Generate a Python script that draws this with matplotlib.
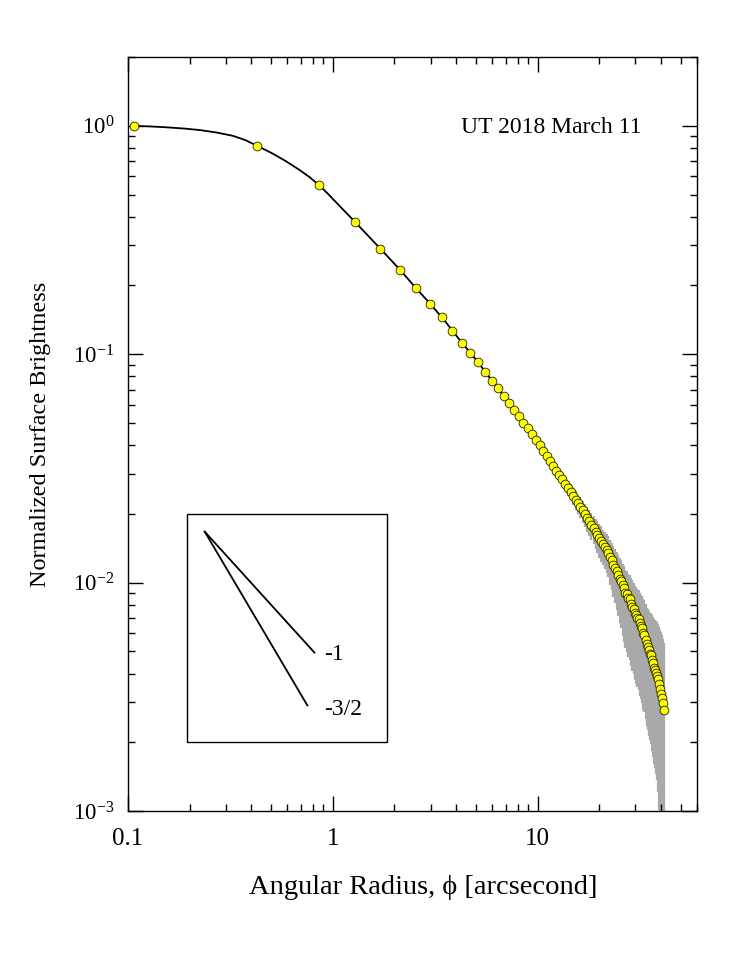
import matplotlib.pyplot as plt
import numpy as np
from matplotlib.patches import Rectangle
from matplotlib.ticker import LogLocator, NullFormatter, FixedLocator

plt.rcParams["font.family"] = ["Liberation Serif", "DejaVu Serif"]
plt.rcParams["mathtext.fontset"] = "custom"
plt.rcParams["mathtext.rm"] = "Liberation Serif"
plt.rcParams["mathtext.it"] = "Liberation Serif:italic"
plt.rcParams["mathtext.bf"] = "Liberation Serif:bold"

# --- datos ---
# radio angular (arcsec)
radius = [
    0.107, 0.426, 0.852, 1.278, 1.704, 2.130, 2.556, 2.982, 3.408, 3.834,
    4.260, 4.686, 5.112, 5.538, 5.964, 6.390, 6.816, 7.242, 7.668, 8.094,
    8.520, 8.946, 9.372, 9.798, 10.224, 10.650, 11.076, 11.502, 11.928, 12.354,
    12.780, 13.206, 13.632, 14.058, 14.484, 14.910, 15.336, 15.762, 16.188, 16.614,
    17.040, 17.466, 17.892, 18.318, 18.744, 19.170, 19.596, 20.022, 20.448, 20.874,
    21.300, 21.726, 22.152, 22.578, 23.004, 23.430, 23.856, 24.282, 24.708, 25.134,
    25.560, 25.986, 26.412, 26.838, 27.264, 27.690, 28.116, 28.542, 28.968, 29.394,
    29.820, 30.246, 30.672, 31.098, 31.524, 31.950, 32.376, 32.802, 33.228, 33.654,
    34.080, 34.506, 34.932, 35.358, 35.784, 36.210, 36.636, 37.062, 37.488, 37.914,
    38.340, 38.766, 39.192, 39.618, 40.044, 40.470, 40.896, 41.322,
]
# brillo superficial normalizado
brightness = [
    1.000, 0.818, 0.552, 0.381, 0.290, 0.234, 0.194, 0.1665, 0.145, 0.127,
    0.1124, 0.1017, 0.0923, 0.0840, 0.0767, 0.0708, 0.0656, 0.0611, 0.0571, 0.0535,
    0.0502, 0.0475, 0.0448, 0.0422, 0.0399, 0.0377, 0.0358, 0.0340, 0.0324, 0.0309,
    0.0296, 0.0283, 0.0271, 0.0260, 0.0250, 0.0240, 0.0231, 0.0223, 0.0215, 0.0207,
    0.0200, 0.0192, 0.0186, 0.0179, 0.0173, 0.0167, 0.0162, 0.0157, 0.0152, 0.0147,
    0.0143, 0.0139, 0.0135, 0.0129, 0.0125, 0.0120, 0.0116, 0.0112, 0.0108, 0.0104,
    0.0102, 0.00977, 0.00946, 0.00905, 0.00888, 0.00860, 0.00845, 0.00810, 0.00786, 0.00763,
    0.00735, 0.00721, 0.00701, 0.00690, 0.00664, 0.00646, 0.00630, 0.00604, 0.00590, 0.00562,
    0.00536, 0.00524, 0.00506, 0.00489, 0.00480, 0.00458, 0.00443, 0.00424, 0.00415, 0.00402,
    0.00390, 0.00378, 0.00360, 0.00342, 0.00326, 0.00311, 0.00296, 0.00278,
]
# error relativo superior / inferior (banda gris)
err_hi = [
    0.01, 0.01, 0.01, 0.01, 0.01, 0.01, 0.01, 0.01, 0.01, 0.01,
    0.01, 0.01, 0.01, 0.01, 0.01, 0.01, 0.01, 0.01, 0.01, 0.01,
    0.01, 0.01, 0.02, 0.02, 0.03, 0.03, 0.04, 0.04, 0.05, 0.05,
    0.06, 0.06, 0.07, 0.07, 0.08, 0.08, 0.09, 0.09, 0.10, 0.10,
    0.11, 0.12, 0.12, 0.13, 0.13, 0.14, 0.15, 0.15, 0.16, 0.16,
    0.17, 0.18, 0.18, 0.19, 0.19, 0.20, 0.21, 0.21, 0.22, 0.23,
    0.23, 0.24, 0.25, 0.25, 0.26, 0.27, 0.28, 0.29, 0.30, 0.31,
    0.32, 0.33, 0.34, 0.35, 0.36, 0.37, 0.39, 0.40, 0.42, 0.43,
    0.45, 0.47, 0.49, 0.51, 0.54, 0.57, 0.60, 0.63, 0.66, 0.69,
    0.72, 0.75, 0.78, 0.82, 0.86, 0.89, 0.92, 0.95,
]
err_lo = [
    0.01, 0.01, 0.01, 0.01, 0.01, 0.01, 0.01, 0.01, 0.01, 0.01,
    0.01, 0.01, 0.01, 0.01, 0.01, 0.01, 0.01, 0.01, 0.01, 0.01,
    0.01, 0.02, 0.02, 0.03, 0.03, 0.04, 0.04, 0.05, 0.05, 0.06,
    0.06, 0.07, 0.07, 0.08, 0.08, 0.09, 0.10, 0.10, 0.11, 0.12,
    0.12, 0.13, 0.14, 0.14, 0.15, 0.16, 0.17, 0.18, 0.19, 0.19,
    0.20, 0.21, 0.22, 0.24, 0.26, 0.28, 0.30, 0.32, 0.34, 0.36,
    0.38, 0.40, 0.42, 0.43, 0.44, 0.45, 0.46, 0.47, 0.48, 0.48,
    0.49, 0.50, 0.50, 0.51, 0.52, 0.52, 0.53, 0.54, 0.54, 0.55,
    0.56, 0.57, 0.58, 0.58, 0.59, 0.60, 0.61, 0.62, 0.63, 0.64,
    0.65, 0.68, 0.72, 0.76, 0.80, 0.85, 0.90, 0.95,
]
# curva del modelo en la parte interna
model_r = [0.107, 0.13, 0.154, 0.19, 0.224, 0.27, 0.325, 0.375, 0.426, 0.50,
           0.59, 0.687, 0.77, 0.852, 0.94, 1.036, 1.15, 1.278]
model_sb = [1.000, 0.993, 0.985, 0.972, 0.958, 0.935, 0.904, 0.865, 0.818, 0.762,
            0.700, 0.641, 0.596, 0.552, 0.507, 0.463, 0.420, 0.381]

# lineas de referencia del recuadro (pendientes -1 y -3/2)
slope1_r = [0.237, 0.813]
slope1_sb = [0.0167, 0.00494]
slope32_r = [0.237, 0.751]
slope32_sb = [0.0167, 0.00290]

# --- grafica ---
fig = plt.figure(figsize=(7.47, 9.67), dpi=100)
ax = fig.add_axes([0.1714, 0.1613, 0.7617, 0.7797])

r = np.array(radius)
sb = np.array(brightness)
lo = sb * (1 - np.array(err_lo))
hi = sb * (1 + np.array(err_hi))
ax.vlines(r, lo, hi, color="#a9a9a9", lw=1.6, zorder=1)

line_r = model_r + radius[4:]
line_sb = model_sb + brightness[4:]
ax.plot(line_r, line_sb, color="black", lw=1.3, zorder=2)
ax.plot(radius, brightness, "o", ms=6.3, mfc="#ffff00", mec="#222200", mew=0.6, zorder=3)

ax.set_xscale("log")
ax.set_yscale("log")
ax.set_xlim(0.1, 60)
ax.set_ylim(1e-3, 2)

ax.xaxis.set_major_locator(FixedLocator([0.1, 1, 10]))
ax.set_xticklabels(["0.1", "1", "10"])
ax.yaxis.set_major_locator(FixedLocator([1e-3, 1e-2, 1e-1, 1]))
ax.set_yticklabels(["10$^{-3}$", "10$^{-2}$", "10$^{-1}$", "10$^{0}$"])
ax.xaxis.set_minor_locator(LogLocator(base=10, subs=np.arange(2, 10), numticks=20))
ax.yaxis.set_minor_locator(LogLocator(base=10, subs=np.arange(2, 10), numticks=20))
ax.xaxis.set_minor_formatter(NullFormatter())
ax.yaxis.set_minor_formatter(NullFormatter())

ax.tick_params(which="both", direction="in", top=True, right=True, width=1.0)
ax.tick_params(which="major", length=11)
ax.tick_params(which="minor", length=5)
ax.tick_params(axis="x", which="major", pad=12, labelsize=18)
ax.tick_params(axis="y", which="major", pad=10, labelsize=16.5)
for s in ax.spines.values():
    s.set_linewidth(1.0)

ax.set_xlabel("Angular Radius, \u03d5 [arcsecond]", fontsize=20.5, labelpad=20)
ax.xaxis.set_label_coords(0.518, -0.085)
ax.set_ylabel("Normalized Surface Brightness", fontsize=17.5, labelpad=16)

ax.text(0.9016, 0.906, "UT 2018 March 11", transform=ax.transAxes,
        ha="right", va="center", fontsize=17)

# recuadro con pendientes
ax.add_patch(Rectangle((0.1037, 0.0915), 0.3515, 0.302, transform=ax.transAxes,
                       fill=False, lw=1.0, ec="black", zorder=4))
ax.plot(slope1_r, slope1_sb, color="black", lw=1.3, zorder=4)
ax.plot(slope32_r, slope32_sb, color="black", lw=1.3, zorder=4)
ax.text(0.909, 0.00485, "-1", ha="left", va="center", fontsize=17)
ax.text(0.909, 0.00279, "-3/2", ha="left", va="center", fontsize=17)

fig.savefig("out.png", dpi=100)
